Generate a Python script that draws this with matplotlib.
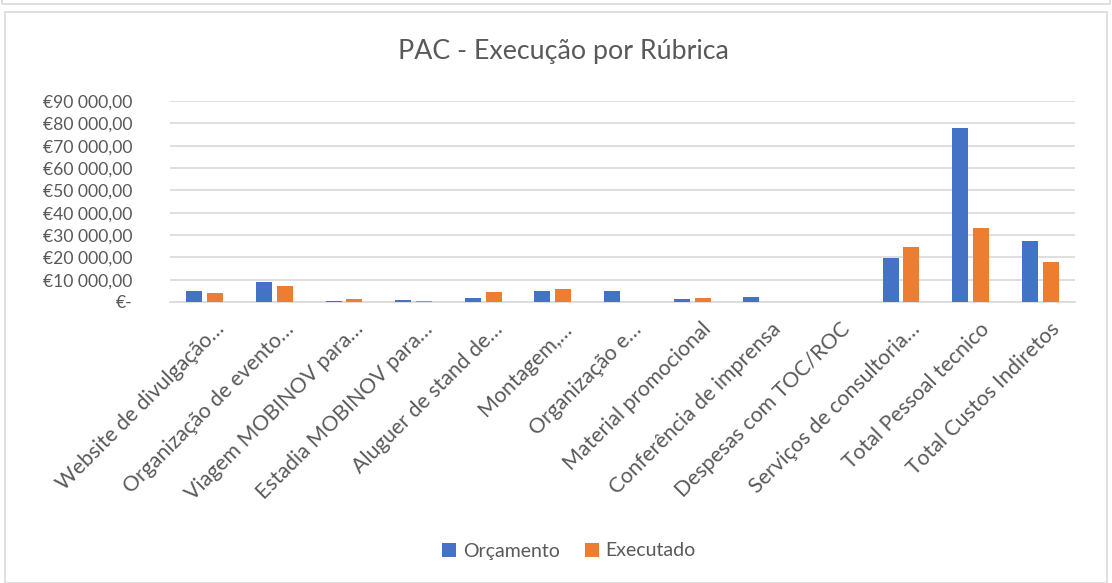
import matplotlib
matplotlib.use("Agg")
import matplotlib.pyplot as plt
from matplotlib.patches import Rectangle
import numpy as np

categories = [
    "Website de divulgação…",
    "Organização de evento…",
    "Viagem MOBINOV para…",
    "Estadia MOBINOV para…",
    "Aluguer de stand de…",
    "Montagem,…",
    "Organização e…",
    "Material promocional",
    "Conferência de imprensa",
    "Despesas com TOC/ROC",
    "Serviços de consultoria…",
    "Total Pessoal tecnico",
    "Total Custos Indiretos",
]
orcamento = [4800, 8800, 600, 700, 1800, 4800, 4800, 1300, 2400, 200, 19800, 77800, 27100]
executado = [4200, 7200, 1300, 600, 4300, 6000, 0, 1900, 0, 200, 24500, 33300, 18000]
series_names = ["Orçamento", "Executado"]
yticks = list(range(0, 90001, 10000))
title = "PAC - Execução por Rúbrica"

BLUE = "#4472C4"
ORANGE = "#ED7D31"
TXT = "#595959"
GRID = "#D9D9D9"
FONT = ["Lato", "DejaVu Sans"]
plt.rcParams["font.family"] = FONT

fig = plt.figure(figsize=(11.12, 5.83), dpi=100)
W, H = 1112, 583
ax = fig.add_axes([170 / W, 1 - 302 / H, (1075 - 170) / W, (302 - 101) / H])

x = np.arange(len(categories))
bw = 0.23
gap = 0.035
ax.bar(x - bw / 2 - gap, orcamento, bw, color=BLUE, label=series_names[0], zorder=3)
ax.bar(x + bw / 2 + gap, executado, bw, color=ORANGE, label=series_names[1], zorder=3)

ax.set_xlim(-0.5, len(categories) - 0.5)
ax.set_ylim(0, 90000)
ax.set_yticks(yticks)


def fmt(v):
    if v == 0:
        return "€-"
    s = f"{v:,.2f}".replace(",", " ").replace(".", ",")
    return "€" + s


ax.set_yticklabels([fmt(v) for v in yticks])
ax.tick_params(axis="y", length=0, pad=27, labelsize=12.6, labelcolor=TXT)
ax.tick_params(axis="x", length=0, labelbottom=False)
ax.grid(axis="y", color=GRID, linewidth=1.2, zorder=0)
for s in ["top", "right", "left"]:
    ax.spines[s].set_visible(False)
ax.spines["bottom"].set_color(GRID)
ax.spines["bottom"].set_linewidth(1.2)

for i, lab in enumerate(categories):
    ax.annotate(lab, xy=(i, 0), xycoords="data", xytext=(16, -24), textcoords="offset pixels",
                rotation=45, rotation_mode="anchor", ha="right", va="center",
                fontsize=15.3, color=TXT, annotation_clip=False)

fig.text(563 / W, 1 - 52 / H, title, ha="center", va="center", fontsize=19.3, color=TXT)

leg = fig.legend(loc="center", bbox_to_anchor=(569 / W, 1 - 551 / H), ncol=2, frameon=False,
                 fontsize=14, labelcolor=TXT, handlelength=0.7, handleheight=0.7,
                 handletextpad=0.35, columnspacing=1.3)

fig.patches.append(Rectangle((5 / W, 0), 1102 / W, 1 - 12 / H, transform=fig.transFigure,
                             fill=False, edgecolor="#D9D9D9", linewidth=1.2))
fig.patches.append(Rectangle((2 / W, 1 - 4 / H), 1108 / W, 0.1, transform=fig.transFigure,
                             fill=False, edgecolor="#D9D9D9", linewidth=1.2))

fig.savefig("out.png", dpi=100)
